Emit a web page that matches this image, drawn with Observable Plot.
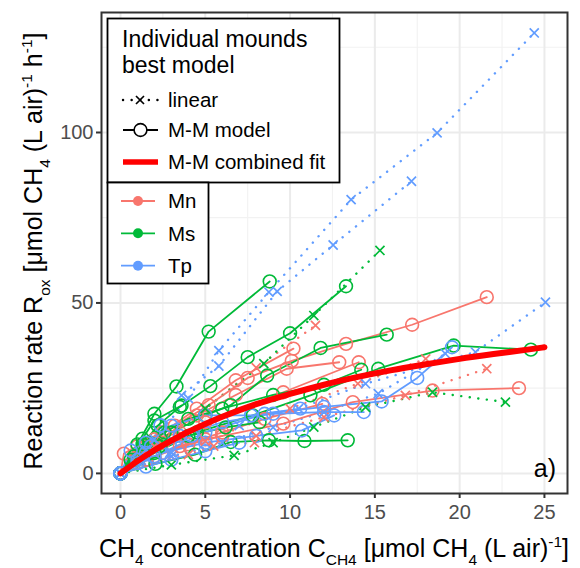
<!DOCTYPE html>
<html><head><meta charset="utf-8">
<script src="https://cdn.jsdelivr.net/npm/d3@7"></script>
<script src="https://cdn.jsdelivr.net/npm/@observablehq/plot@0.6"></script>
<style>
body{margin:0;background:#fff}
#chart{width:580px;height:568px}
g[aria-label="x-axis tick label"] text, g[aria-label="y-axis tick label"] text{fill:#4D4D4D}
</style>
</head><body><div id="chart"></div>
<script>
// ---- tick values ----
const xTicks = [0, 5, 10, 15, 20, 25];
const xMinor = [2.5, 7.5, 12.5, 17.5, 22.5];
const yTicks = [0, 50, 100];
const yMinor = [25, 75, 125];
const groups = ["Mn", "Ms", "Tp"];
const groupColors = ["#F8766D", "#00BA38", "#619CFF"];

// ---- Mn (M-M model) ----
const mn1 = [[0,0],[1.5,8],[3.2,14],[5.2,20],[7.5,28],[10.1,33],[13.3,38],[17.2,43.6],[21.6,51.7]];
const mn2 = [[0,0],[1.0,5],[2.5,12],[4.5,19],[6.8,27.3],[10.2,36.6]];
const mn3 = [[0,0],[2,9],[4.5,17],[6.8,23],[9.8,30.7],[12.9,32.6]];
const mn4 = [[0,0],[2.5,9],[5,15],[9.6,23.8],[14.05,32.6]];
const mn5 = [[0,0],[2,5],[5,10],[9.6,14.6],[13.7,20.9],[18.4,24.3],[23.5,25]];
const mn6 = [[0,0],[0.2,5.8],[1,8],[2,10],[3.5,12]];
const mn7 = [[0,0],[1.5,4],[3.5,8],[6,12],[8.5,16],[11.9,20.4]];
const mn8 = [[0,0],[1,3],[2.5,6],[4,8.5],[6,11]];
// ---- Mn (linear) ----
const mnL1 = [[0,0],[4,5.5],[8,11],[12,16.5],[16.8,22.9],[21.6,30.7]];
const mnL2 = [[0,0],[2,8],[5,19],[8,31],[11.5,43.4]];
const mnL3 = [[0,0],[3,5],[5.5,8],[7.9,9]];
const mnL4 = [[0,0],[5,9.5],[10,19],[14,26.3],[18,33.6]];

// ---- Ms (M-M model) ----
const ms1 = [[0,0],[1.0,8.5],[2.0,17.5],[3.3,25.5],[5.2,41.6],[8.8,56.3]];
const ms2 = [[0,0],[1.3,8.5],[2.2,14],[3.5,19.5],[5.3,25.6],[7.5,34.1],[10.0,41.1],[13.3,54.9]];
const ms3 = [[0,0],[1.5,7],[3,12],[5,17],[6.5,20],[8.65,28.7],[11.8,36.8],[15.7,40.7]];
const ms4 = [[0,0],[2,6],[4.5,12],[7.8,17],[11.2,22.9],[15.2,30.7],[19.65,37.5],[24.2,36.3]];
const ms5 = [[0,0],[2.06,2.8],[4.4,5.5],[6.5,9.2],[8.75,9.7],[10.85,9.5],[13.4,9.7]];
const ms6 = [[0,0],[0.6,4],[1.3,10.2],[2.0,15.5],[3.6,19.9]];
const ms7 = [[0,0],[1,4],[2.3,8],[4,11],[6.2,13.5],[8.2,15]];
const ms8 = [[0,0],[0.8,5],[1.7,9],[2.6,12],[4.0,16],[6.0,19],[9.0,23],[12.0,26],[14.2,30.4]];
// ---- Ms (linear) ----
const msL1 = [[0,0],[2.5,9],[5,19],[8.45,32.2],[11.4,46.3],[15.3,65.4]];
const msL2 = [[0,0],[3,2.5],[6.7,5.3],[9,9],[11.4,13.6],[14.45,19.4],[18.4,23.8],[22.7,20.9]];

// ---- Tp (M-M model) ----
const tp1 = [[0,0],[2,5],[5,12],[8.5,17.5],[12,19.5],[15.4,21.1],[17.5,28],[19.55,37]];
const tp2 = [[0,0],[1.5,6],[3.5,11],[6,15],[9,17.5],[12,18],[14.35,18]];
const tp3 = [[0,0],[0.6,6.7],[1.5,9],[3,14],[5,17],[7.7,17],[10.6,19]];
const tp4 = [[0,0],[1,3],[2.5,6],[5,9],[8,11],[10.7,12.6],[12.6,17]];
const tp5 = [[0,0],[1,4],[1.8,8],[2.36,14.1],[2.9,8.5],[4.2,11]];
const tp6 = [[0,0],[1.5,2],[3,4],[5,6.5],[7,9]];
// ---- Tp (linear) ----
const tpL1 = [[0,0],[2,10],[4,22],[5.8,36],[8.75,53.2],[13.6,80.3],[18.67,99.9],[24.4,129.2]];
const tpL2 = [[0,0],[1.5,7],[3.6,22.9],[5.8,31.5],[9.24,53.4],[12.54,67],[17.16,85.7]];
const tpL3 = [[0,0],[3,6],[7,14],[10.5,19],[14.45,26.3],[20.93,35.6],[25.06,50.2]];
const tpL4 = [[0,0],[3,5],[6,9],[9,13.5],[12,18],[15.2,23.4],[19.16,35.1]];

// ---- combined M-M fit ----
const fitX = [0,1,2,3,4,5,6,8,10,12,14,16,18,20,22,24,25];
const fitY = [0,3.6,6.8,9.6,12.2,14.5,16.6,20.3,23.3,26.0,28.3,30.3,32.0,33.6,35.0,36.3,37.0];

// ---- build tables ----
const mmSets = {Mn:[mn1,mn2,mn3,mn4,mn5,mn6,mn7,mn8], Ms:[ms1,ms2,ms3,ms4,ms5,ms6,ms7,ms8], Tp:[tp1,tp2,tp3,tp4,tp5,tp6]};
const linSets = {Mn:[mnL1,mnL2,mnL3,mnL4], Ms:[msL1,msL2], Tp:[tpL1,tpL2,tpL3,tpL4]};
function table(sets, model){
  const out = [];
  for (const g of groups) sets[g].forEach((s, i) => s.forEach(([x, y]) => out.push({x, y, group:g, id:g+model+i})));
  return out;
}
const mmRows = table(mmSets, "mm");
const linRows = table(linSets, "lin");
const fitRows = fitX.map((x, i) => ({x, y: fitY[i]}));

const W = 580, H = 568;
const svg = Plot.plot({
  width: W, height: H,
  marginTop: 12, marginRight: 13, marginBottom: 75, marginLeft: 101,
  style: {fontFamily: "'Liberation Sans', Arial, sans-serif", background: "white", overflow: "visible"},
  x: {domain: [-1.12, 26.36]},
  y: {domain: [-5.9, 135.2]},
  color: {domain: groups, range: groupColors},
  marks: [
    Plot.ruleX(xMinor, {stroke: "#F2F2F2", strokeWidth: 1.2}),
    Plot.ruleY(yMinor, {stroke: "#F2F2F2", strokeWidth: 1.2}),
    Plot.ruleX(xTicks, {stroke: "#EBEBEB", strokeWidth: 2}),
    Plot.ruleY(yTicks, {stroke: "#EBEBEB", strokeWidth: 2}),
    Plot.line(linRows, {x: "x", y: "y", z: "id", stroke: "group", strokeWidth: 2.4, strokeDasharray: "0.1,8.5", strokeLinecap: "round"}),
    Plot.line(mmRows, {x: "x", y: "y", z: "id", stroke: "group", strokeWidth: 1.8}),
    Plot.dot(mmRows, {x: "x", y: "y", r: 6.4, stroke: "group", fill: "none", strokeWidth: 1.6}),
    Plot.dot(linRows, {x: "x", y: "y", r: 4.2, symbol: "times", stroke: "group", strokeWidth: 1.7}),
    Plot.line(fitRows, {x: "x", y: "y", stroke: "#FF0000", strokeWidth: 6, curve: "monotone-x"}),
    Plot.frame({stroke: "#333333", strokeWidth: 2}),
    Plot.axisX({ticks: xTicks, tickSize: 5, tickPadding: 6, fontSize: 20, label: null, strokeWidth: 2, stroke: "#333"}),
    Plot.axisY({ticks: yTicks, tickSize: 5, tickPadding: 3, fontSize: 20, label: null, strokeWidth: 2, stroke: "#333"})
  ]
});
document.getElementById("chart").appendChild(svg);

const s = d3.select(svg);
const FONT = "'Liberation Sans', Arial, sans-serif";
function rich(sel, parts, fs){
  let cur = 0;
  parts.forEach(([t, k]) => {
    const target = k === "sub" ? fs*0.3 : k === "sup" ? -fs*0.4 : 0;
    const ts = sel.append("tspan").text(t).attr("dy", target - cur);
    if (k !== "n") ts.attr("font-size", fs*0.62);
    cur = target;
  });
}
// x title
const xt = s.append("text").attr("x", 334).attr("y", 557).attr("text-anchor", "middle")
  .attr("font-family", FONT).attr("font-size", 25).attr("fill", "#000");
rich(xt, [["CH","n"],["4","sub"],[" concentration C","n"],["CH4","sub"],[" [\u03BCmol CH","n"],["4","sub"],[" (L air)","n"],["-1","sup"],["]","n"]], 25);
// y title
const yt = s.append("text").attr("transform", "translate(42,251) rotate(-90)").attr("text-anchor", "middle")
  .attr("font-family", FONT).attr("font-size", 25).attr("fill", "#000");
rich(yt, [["Reaction rate R","n"],["ox","sub"],[" [\u03BCmol CH","n"],["4","sub"],[" (L air)","n"],["-1","sup"],[" h","n"],["-1","sup"],["]","n"]], 25);
// panel tag
s.append("text").attr("x", 556).attr("y", 477).attr("text-anchor", "end").attr("font-family", FONT)
  .attr("font-size", 25).attr("fill", "#000").text("a)");

// legend 1
const L = s.append("g").attr("font-family", FONT).attr("text-anchor", "start").attr("fill", "#000");
L.append("rect").attr("x", 107.5).attr("y", 18.5).attr("width", 232).attr("height", 164)
  .attr("fill", "white").attr("stroke", "#000").attr("stroke-width", 1.8);
L.append("text").attr("x", 122).attr("y", 47).attr("font-size", 23).attr("text-anchor", "start").text("Individual mounds");
L.append("text").attr("x", 122).attr("y", 73).attr("font-size", 23).attr("text-anchor", "start").text("best model");
const keyRows = [["linear", 100], ["M-M model", 130], ["M-M combined fit", 162]];
keyRows.forEach(([t, y]) => L.append("text").attr("x", 168).attr("y", y + 7.3).attr("font-size", 20.5).attr("text-anchor", "start").text(t));
L.append("line").attr("x1", 123).attr("x2", 158).attr("y1", 100).attr("y2", 100).attr("stroke", "#000")
  .attr("stroke-width", 2.4).attr("stroke-dasharray", "0.1,8.5").attr("stroke-linecap", "round");
L.append("path").attr("d", "M136,96L144,104M136,104L144,96").attr("stroke", "#000").attr("stroke-width", 1.7);
L.append("line").attr("x1", 123).attr("x2", 158).attr("y1", 130).attr("y2", 130).attr("stroke", "#000").attr("stroke-width", 1.8);
L.append("circle").attr("cx", 140.5).attr("cy", 130).attr("r", 6.4).attr("fill", "white").attr("stroke", "#000").attr("stroke-width", 1.6);
L.append("line").attr("x1", 123).attr("x2", 158).attr("y1", 162).attr("y2", 162).attr("stroke", "#FF0000").attr("stroke-width", 5.5);
// legend 2
L.append("rect").attr("x", 107.5).attr("y", 182.5).attr("width", 101).attr("height", 101)
  .attr("fill", "white").attr("stroke", "#000").attr("stroke-width", 1.8);
const gy = [201, 233.3, 265.7];
groups.forEach((g, i) => {
  L.append("line").attr("x1", 121).attr("x2", 155).attr("y1", gy[i]).attr("y2", gy[i]).attr("stroke", groupColors[i]).attr("stroke-width", 1.8);
  L.append("circle").attr("cx", 138).attr("cy", gy[i]).attr("r", 5).attr("fill", groupColors[i]);
  L.append("text").attr("x", 168).attr("y", gy[i] + 7.3).attr("font-size", 20.5).attr("text-anchor", "start").text(g);
});
</script>
</body></html>
